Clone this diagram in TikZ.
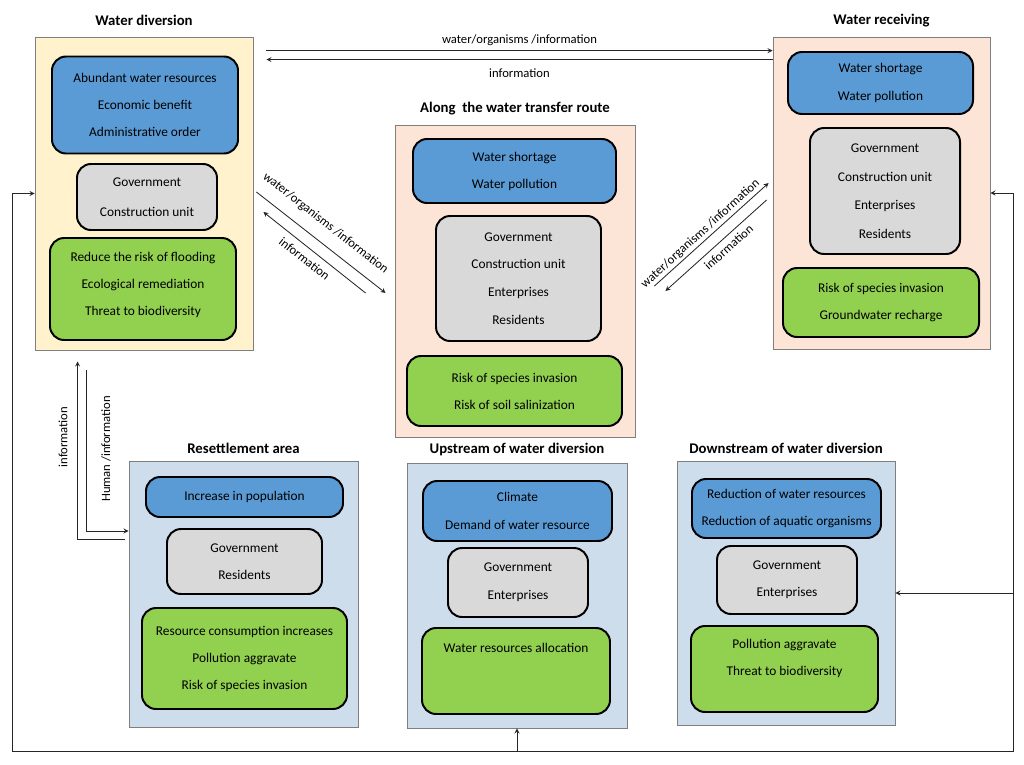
\documentclass[tikz,border=0pt]{standalone}
\usepackage{fontspec}
\setmainfont{Carlito}
\usetikzlibrary{positioning,calc,arrows.meta}
\tikzset{>=stealth}

\definecolor{wdfill}{HTML}{FFF2CC}
\definecolor{routefill}{HTML}{FCE4D6}
\definecolor{areafill}{HTML}{CEDDEB}
\definecolor{needblue}{HTML}{5B9BD5}
\definecolor{actorgray}{HTML}{D9D9D9}
\definecolor{effectgreen}{HTML}{92D050}
\definecolor{edgegray}{HTML}{7F7F7F}

\tikzset{
  wh/.style 2 args={minimum width=#1*0.025cm, minimum height=#2*0.025cm},
  lines/.style={font=\fontsize{9.5pt}{#1}\selectfont},
  lines/.default=19.2pt,
  region/.style={draw=edgegray, line width=0.6pt, inner sep=0pt},
  title/.style={font=\fontsize{10.5pt}{12pt}\selectfont\bfseries},
  cell/.style={draw=black, line width=1.4pt, rounded corners=10pt, align=center, lines, inner sep=2pt},
  need/.style={cell, fill=needblue},
  actor/.style={cell, fill=actorgray},
  effect/.style={cell, fill=effectgreen},
  flow/.style={font=\fontsize{9pt}{11pt}\selectfont, inner sep=1.5pt},
  link/.style={line width=0.6pt, draw=black!85}
}

\begin{document}
\begin{tikzpicture}[x=0.025cm,y=-0.025cm]
\useasboundingbox (0,0) rectangle (1024,764);

% Regions
\node[region, fill=wdfill, wh={218}{313}] (wd) at (144,193.5) {};
\node[region, fill=routefill, wh={217}{312}] (wr) at (881.5,193) {};
\node[region, fill=routefill, wh={240}{312}] (al) at (515,281) {};
\node[region, fill=areafill, wh={229}{266}] (res) at (243.5,594) {};
\node[region, fill=areafill, wh={220}{265}] (up) at (517,595.5) {};
\node[region, fill=areafill, wh={218}{264}] (down) at (786,593) {};

% Titles
\node[title, above=4pt of wd] (wdtitle) {Water diversion};
\node[title, above=3.5pt of wr] (wrtitle) {Water receiving};
\node[title, above=3.5pt of al] (altitle) {Along\ \ the water transfer route};
\node[title, above=1.5pt of res] (restitle) {Resettlement area};
\node[title, above=1.5pt of up] (uptitle) {Upstream of water diversion};
\node[title, above=1.5pt of down] (downtitle) {Downstream of water diversion};

% Water diversion
\node[need, wh={186}{97}] (wdneed) at (145,105) {Abundant water resources\\Economic benefit\\Administrative order};
\node[actor, wh={140}{66}, lines=21.3pt] (wdactor) at (147,197) {Government\\Construction unit};
\node[effect, wh={186}{102}] (wdeffect) at (143,289) {Reduce the risk of flooding\\Ecological remediation\\Threat to biodiversity\\[-12pt]\rule{0pt}{0pt}};

% Water receiving
\node[need, wh={185}{62}, lines=19.9pt] (wrneed) at (880.5,83) {Water shortage\\Water pollution};
\node[actor, wh={150}{126}, lines=20.3pt] (wractor) at (885,191) {Government\\Construction unit\\Enterprises\\Residents};
\node[effect, wh={196}{69}] (wreffect) at (881,302.5) {Risk of species invasion\\Groundwater recharge};

% Along the route
\node[need, wh={203}{64}] (alneed) at (514.5,171) {Water shortage\\Water pollution};
\node[actor, wh={165}{125}, lines=19.7pt] (alactor) at (518.5,278.5) {Government\\Construction unit\\Enterprises\\Residents};
\node[effect, wh={215}{70}] (aleffect) at (514.5,391) {Risk of species invasion\\Risk of soil salinization};

% Resettlement area
\node[need, wh={197}{40}] (resneed) at (244.5,497) {Increase in population};
\node[actor, wh={155}{65}] (resactor) at (244.5,561.5) {Government\\Residents};
\node[effect, wh={205}{101}] (reseffect) at (244.5,658.5) {Resource consumption increases\\Pollution aggravate\\Risk of species invasion};

% Upstream
\node[need, wh={189}{60}, lines=19.9pt] (upneed) at (517.5,511) {Climate\\Demand of water resource};
\node[actor, wh={140}{69}, lines=19.9pt] (upactor) at (518,582.5) {Government\\Enterprises};
\node[effect, wh={188}{86}, lines=14.4pt] (upeffect) at (516,671) {Water resources allocation\\\strut\\\strut};

% Downstream
\node[need, wh={189}{59}] (downneed) at (786.5,508.5) {Reduction of water resources\\Reduction of aquatic organisms};
\node[actor, wh={140}{68}] (downactor) at (787,580) {Government\\Enterprises};
\node[effect, wh={187}{86}] (downeffect) at (784.5,669) {Pollution aggravate\\Threat to biodiversity\\[-8.5pt]\strut};

% Top flows
\coordinate (ta) at ([shift={(13,14)}]wd.north east);
\coordinate (tb) at ([shift={(13,23)}]wd.north east);
\draw[link,->] (ta) -- node[flow, above=2pt] (talabel) {water/organisms /information} (ta -| wr.west);
\draw[link,->] (tb -| wr.west) -- node[flow, below=4.5pt] (tblabel) {information} (tb);

% Left diagonal flows
\coordinate (la1) at ([shift={(3,-1.5)}]wd.east);
\coordinate (la2) at ([shift={(-9,12)}]al.west);
\coordinate (lb1) at ([shift={(-29,12)}]al.west);
\coordinate (lb2) at ([shift={(10,18.5)}]wd.east);
\draw[link,->] (la1) -- node[flow, sloped, above=7pt, pos=0.45] (lalabel) {water/organisms /information} (la2);
\draw[link,->] (lb1) -- node[flow, sloped, below=3pt, pos=0.53] (lblabel) {information} (lb2);

% Right diagonal flows
\coordinate (ra1) at ([shift={(19,5)}]al.east);
\coordinate (ra2) at ([shift={(-4,-10)}]wr.west);
\coordinate (rb1) at ([shift={(-6,7)}]wr.west);
\coordinate (rb2) at ([shift={(30,10)}]al.east);
\draw[link,->] (ra1) -- node[flow, sloped, above=0pt, pos=0.45] (ralabel) {water/organisms /information} (ra2);
\draw[link,->] (rb1) -- node[flow, sloped, below=2pt, pos=0.44] (rblabel) {information} (rb2);

% Resettlement flows
\coordinate (i1) at ([shift={(-4,-55)}]res.west);
\coordinate (i2) at ([shift={(43,11)}]wd.south west);
\coordinate (h1) at ([shift={(52,20)}]wd.south west);
\coordinate (h2) at ([shift={(0,-63)}]res.west);
\draw[link,->] (i1) -| (i2);
\draw[link,->] (h1) |- (h2);
\node[flow, rotate=90] (ilabel) at (63,437) {information};
\node[flow, rotate=90] (hlabel) at (106,449) {Human /information};

% Feedback loop
\coordinate (fl) at (12,751);
\coordinate (fr) at (1013,751);
\draw[link,<->] (wd.west) -| (fl) -- (fr) |- (wr.east);
\draw[link,->] (up.south |- fl) -- (up.south);
\draw[link,->] (fr |- down.east) -- (down.east);
\end{tikzpicture}
\end{document}
